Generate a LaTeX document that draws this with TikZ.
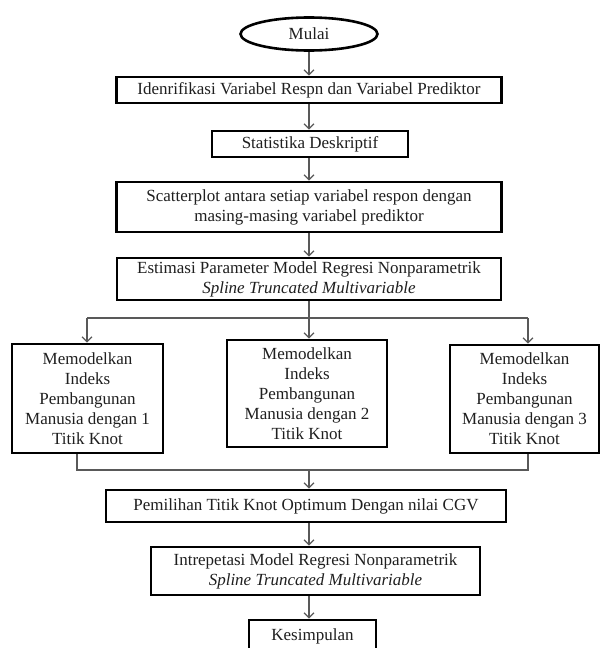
\documentclass[tikz,border=0pt]{standalone}
\usepackage{fontspec}
\setmainfont{Liberation Serif}
\usetikzlibrary{shapes.geometric,arrows.meta}
\begin{document}
\begin{tikzpicture}[x=1pt,y=-1pt,
  every node/.style={font=\fontsize{17}{20}\selectfont, text=black!88},
  boxnode/.style={draw=black, line width=2.6pt, fill=white, align=center, inner sep=0pt},
  startnode/.style={ellipse, draw=black, line width=2.6pt, fill=white, inner sep=0pt},
  conn/.style={draw=black!65, line width=1.5pt},
  arr/.style={conn, -{Straight Barb[length=5pt,width=10pt,line width=1.3pt]}}
]
\useasboundingbox (0,0) rectangle (601,648);

\node[startnode, minimum width=137pt, minimum height=33pt] (mulai) at (309,34) {Mulai};
\node[boxnode, minimum width=385pt, minimum height=26pt] (b1) at (309,90) {Idenrifikasi Variabel Respn dan Variabel Prediktor};
\node[boxnode, minimum width=196pt, minimum height=26pt] (b2) at (310,144) {Statistika Deskriptif};
\node[boxnode, minimum width=385pt, minimum height=50pt] (b3) at (309,207) {Scatterplot antara setiap variabel respon dengan\\masing-masing variabel prediktor};
\node[boxnode, minimum width=384pt, minimum height=42pt] (b4) at (309,279) {Estimasi Parameter Model Regresi Nonparametrik\\\textit{Spline Truncated Multivariable}};

\node[boxnode, minimum width=151pt, minimum height=109pt] (k1) at (87.5,398.5) {Memodelkan\\Indeks\\Pembangunan\\Manusia dengan 1\\Titik Knot};
\node[boxnode, minimum width=160pt, minimum height=107pt] (k2) at (307,393.5) {Memodelkan\\Indeks\\Pembangunan\\Manusia dengan 2\\Titik Knot};
\node[boxnode, minimum width=149pt, minimum height=108pt] (k3) at (524.5,399) {Memodelkan\\Indeks\\Pembangunan\\Manusia dengan 3\\Titik Knot};

\node[boxnode, minimum width=400pt, minimum height=32pt] (pem) at (306,506) {Pemilihan Titik Knot Optimum Dengan nilai CGV};
\node[boxnode, minimum width=329pt, minimum height=48pt] (int) at (315.5,571) {Intrepetasi Model Regresi Nonparametrik\\\textit{Spline Truncated Multivariable}};
\node[boxnode, minimum width=127pt, minimum height=32pt] (kes) at (312.5,636) {Kesimpulan};

\coordinate (jt) at (309,318);
\coordinate (jl) at (87,318);
\coordinate (jr) at (528,318);
\coordinate (ml) at (77,470);
\coordinate (mr) at (528,470);
\coordinate (mc) at (309,470);

\draw[arr] (mulai.south) -- (mulai.south |- b1.north);
\draw[arr] (b1.south -| mulai.south) -- (mulai.south |- b2.north);
\draw[arr] (b2.south -| mulai.south) -- (mulai.south |- b3.north);
\draw[arr] (b3.south -| mulai.south) -- (mulai.south |- b4.north);

\draw[conn] (b4.south -| jt) -- (jt);
\draw[conn] (jl) -- (jr);
\draw[arr] (jl) -- (jl |- k1.north);
\draw[arr] (jt) -- (jt |- k2.north);
\draw[arr] (jr) -- (jr |- k3.north);

\draw[conn] (ml |- k1.south) -- (ml) -- (mr) -- (mr |- k3.south);
\draw[arr] (mc) -- (mc |- pem.north);
\draw[arr] (pem.south -| mc) -- (mc |- int.north);
\draw[arr] (int.south -| mc) -- (mc |- kes.north);
\end{tikzpicture}
\end{document}
